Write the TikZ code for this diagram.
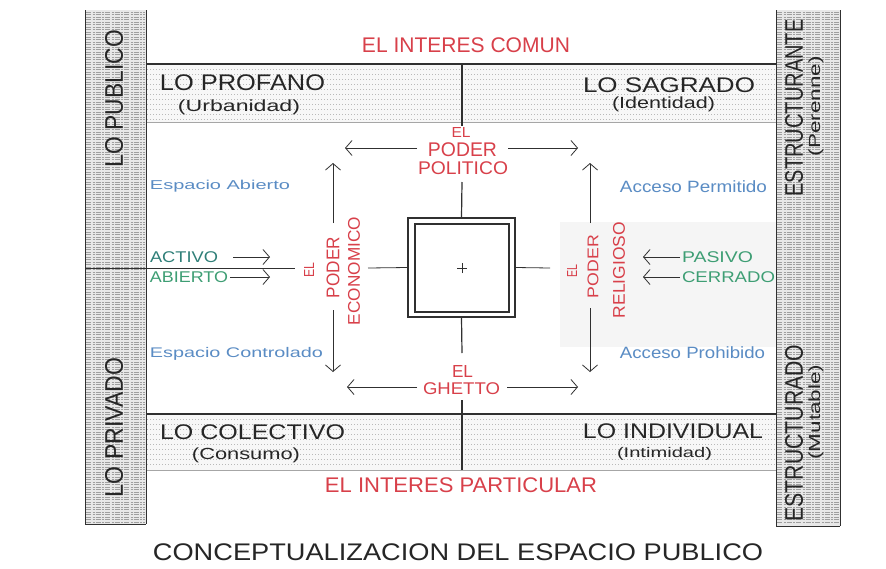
\documentclass[tikz,border=0pt]{standalone}
\usepackage{fontspec}
\setmainfont{Liberation Sans}
\usepackage{graphicx}
\usetikzlibrary{arrows.meta}
\definecolor{redT}{HTML}{D8404A}
\definecolor{blueT}{HTML}{5A8CC4}
\definecolor{greenT}{HTML}{3E9E74}
\definecolor{tealT}{HTML}{2F7F78}
\definecolor{lineC}{HTML}{303030}
\newcommand{\fitt}[3]{\resizebox*{#1pt}{#2pt}{#3}}
\tikzset{
  txt/.style={inner sep=0pt, outer sep=0pt, anchor=center},
  redtxt/.style={txt, text=redT},
  bluetxt/.style={txt, text=blueT},
  greentxt/.style={txt, text=greenT},
  blacktxt/.style={txt, text=black!85},
  mainline/.style={draw=lineC, line width=1.2pt},
  thinline/.style={draw=lineC, line width=0.8pt},
  arr/.style={draw=lineC, line width=0.8pt, -{Straight Barb[length=6.5pt,width=15pt]}},
  bartex/.style={draw=gray!75, line width=0.5pt, dash pattern=on 5pt off 1.5pt on 2pt off 1pt},
  dottex/.style={draw=gray!55, line width=0.8pt, dash pattern=on 0.8pt off 2.2pt},
}
\begin{document}
\begin{tikzpicture}[x=1pt,y=-1pt]
\useasboundingbox[fill=white] (0,0) rectangle (886,568);

% light shaded area behind religious power
\fill[gray!8] (560,222) rectangle (777,347);

% bands
\fill[gray!6] (146,64) rectangle (776,122);
\fill[gray!6] (146,414) rectangle (776,470);
\foreach \yy in {69,74,...,119} {\draw[dottex] (147,\yy) -- (775,\yy);}
\foreach \yy in {419,424,...,467} {\draw[dottex] (147,\yy) -- (775,\yy);}
\draw[mainline] (146,64) -- (776,64);
\draw[draw=gray!70, line width=0.9pt] (146,122) -- (776,122);
\draw[mainline] (146,414) -- (776,414);
\draw[draw=gray!70, line width=0.9pt] (146,470) -- (776,470);

% side bars
\fill[gray!18] (85,10) rectangle (146,524);
\fill[gray!18] (776,10) rectangle (840,526);
\foreach \yy in {12,14.5,...,522} {\draw[bartex] (86,\yy) -- (145,\yy);}
\foreach \yy in {12,14.5,...,524} {\draw[bartex] (777,\yy) -- (839,\yy);}
\draw[thinline] (85,10) -- (85,524);
\draw[thinline] (146,10) -- (146,524);
\draw[thinline] (85,524) -- (146,524);
\draw[thinline] (776,10) -- (776,526);
\draw[thinline] (840,10) -- (840,526);
\draw[thinline] (776,526) -- (840,526);

% bar texts
\node[blacktxt, rotate=90] (pub) at (114,98.5) {\fitt{137}{18}{LO PUBLICO}};
\node[blacktxt, rotate=90] (priv) at (114,427.5) {\fitt{139}{18}{LO PRIVADO}};
\node[blacktxt, rotate=90] (estr1) at (794,108) {\fitt{177}{18}{ESTRUCTURANTE}};
\node[blacktxt, rotate=90] (per) at (816,106) {\fitt{100}{15}{(Perenne)}};
\node[blacktxt, rotate=90] (estr2) at (794,433) {\fitt{177}{18}{ESTRUCTURADO}};
\node[blacktxt, rotate=90] (mut) at (816,412) {\fitt{95}{15}{(Mutable)}};

% central square
\node[draw=lineC, line width=1.2pt, minimum width=107pt, minimum height=99pt, inner sep=0pt] (sq) at (461.5,267.5) {};
\node[draw=lineC, line width=1.1pt, minimum width=94pt, minimum height=88pt, inner sep=0pt] (sqin) at (462,268) {};
\coordinate (cen) at (462,268);
\draw[thinline, line width=0.6pt] ([xshift=-5pt]cen) -- ([xshift=5pt]cen);
\draw[thinline, line width=0.6pt] ([yshift=-5pt]cen) -- ([yshift=5pt]cen);

% red texts
\node[redtxt] (com) at (466,45) {\fitt{208}{15}{EL INTERES COMUN}};
\node[redtxt] (part) at (461,485) {\fitt{272}{15}{EL INTERES PARTICULAR}};
\node[redtxt] (pol1) at (461,132) {\fitt{19}{10}{EL}};
\node[redtxt] (pol2) at (462.5,149.5) {\fitt{69}{14}{PODER}};
\node[redtxt] (pol3) at (463,168.5) {\fitt{90}{13}{POLITICO}};
\node[redtxt] (gh1) at (462.5,371) {\fitt{21}{12}{EL}};
\node[redtxt] (gh2) at (461.5,389) {\fitt{77}{12}{GHETTO}};
\node[redtxt, rotate=90] (eco1) at (309,270) {\fitt{15}{10}{EL}};
\node[redtxt, rotate=90] (eco2) at (333,267.5) {\fitt{61}{13}{PODER}};
\node[redtxt, rotate=90] (eco3) at (354,271) {\fitt{108}{12}{ECONOMICO}};
\node[redtxt, rotate=90] (rel1) at (572,271) {\fitt{13}{10}{EL}};
\node[redtxt, rotate=90] (rel2) at (593,266.5) {\fitt{63}{11}{PODER}};
\node[redtxt, rotate=90] (rel3) at (619,270) {\fitt{96}{12}{RELIGIOSO}};

% black texts
\node[blacktxt] (profano) at (242.5,83) {\fitt{165}{16}{LO PROFANO}};
\node[blacktxt] (urb) at (239,107) {\fitt{122}{15}{(Urbanidad)}};
\node[blacktxt] (sagrado) at (669,85) {\fitt{172}{15}{LO SAGRADO}};
\node[blacktxt] (ident) at (663.5,104.5) {\fitt{103}{15}{(Identidad)}};
\node[blacktxt] (colect) at (252.5,432) {\fitt{185}{15}{LO COLECTIVO}};
\node[blacktxt] (consumo) at (246,455) {\fitt{108}{15}{(Consumo)}};
\node[blacktxt] (indiv) at (673,431) {\fitt{180}{15}{LO INDIVIDUAL}};
\node[blacktxt] (intim) at (664.5,454) {\fitt{95}{13}{(Intimidad)}};
\node[blacktxt] (caption) at (458,552) {\fitt{610}{17}{CONCEPTUALIZACION DEL ESPACIO PUBLICO}};

% blue texts
\node[bluetxt] (espab) at (220,186) {\fitt{140}{12}{Espacio Abierto}};
\node[bluetxt] (espco) at (236.5,353.5) {\fitt{173}{13}{Espacio Controlado}};
\node[bluetxt] (accp) at (693.5,187) {\fitt{147}{12}{Acceso Permitido}};
\node[bluetxt] (accpr) at (692.5,353) {\fitt{145}{12}{Acceso Prohibido}};

% green texts
\node[txt, text=tealT] (activo) at (184,257) {\fitt{68}{11}{ACTIVO}};
\node[greentxt] (abierto) at (189,277.5) {\fitt{78}{11}{ABIERTO}};
\node[greentxt] (pasivo) at (717.5,257) {\fitt{71}{11}{PASIVO}};
\node[greentxt] (cerrado) at (728.5,277) {\fitt{93}{11}{CERRADO}};

% coordinates for free ends
\coordinate (topband) at (462,64);
\coordinate (polT) at (462,126);
\coordinate (polB) at (462,182);
\coordinate (ghT) at (462,353);
\coordinate (ghB) at (462,400);
\coordinate (botband) at (462,470);
\coordinate (midL0) at (85,268);
\coordinate (midL1) at (295,268);
\coordinate (midL2) at (368,268);
\coordinate (midR1) at (550,268);
\coordinate (tlS) at (417,148); \coordinate (tlE) at (345,148);
\coordinate (trS) at (508,148); \coordinate (trE) at (578,148);
\coordinate (blS) at (417,387); \coordinate (blE) at (347,387);
\coordinate (brS) at (507,387); \coordinate (brE) at (578,387);
\coordinate (lvT0) at (333,223); \coordinate (lvT1) at (333,163);
\coordinate (lvB0) at (333,310); \coordinate (lvB1) at (333,372);
\coordinate (rvT0) at (590,223); \coordinate (rvT1) at (590,163);
\coordinate (rvB0) at (590,308); \coordinate (rvB1) at (590,372);
\coordinate (actS) at (233,257); \coordinate (actE) at (270,257);
\coordinate (abS) at (230,277); \coordinate (abE) at (270,277);
\coordinate (pasS) at (680,257); \coordinate (pasE) at (643,257);
\coordinate (cerS) at (680,277); \coordinate (cerE) at (643,277);

% axis lines
\draw[mainline] (topband) -- (polT);
\draw[mainline] (polB) -- (sq.north);
\draw[mainline] (sq.south) -- (ghT);
\draw[mainline] (ghB) -- (botband);
\draw[thinline] (midL0) -- (midL1);
\draw[thinline] (midL2) -- (sq.west);
\draw[thinline] (sq.east) -- (midR1);

% arrows of the power ring
\draw[arr] (tlS) -- (tlE);
\draw[arr] (trS) -- (trE);
\draw[arr] (blS) -- (blE);
\draw[arr] (brS) -- (brE);
\draw[arr] (lvT0) -- (lvT1);
\draw[arr] (lvB0) -- (lvB1);
\draw[arr] (rvT0) -- (rvT1);
\draw[arr] (rvB0) -- (rvB1);

% green arrows
\draw[arr] (actS) -- (actE);
\draw[arr] (abS) -- (abE);
\draw[arr] (pasS) -- (pasE);
\draw[arr] (cerS) -- (cerE);
\end{tikzpicture}
\end{document}
